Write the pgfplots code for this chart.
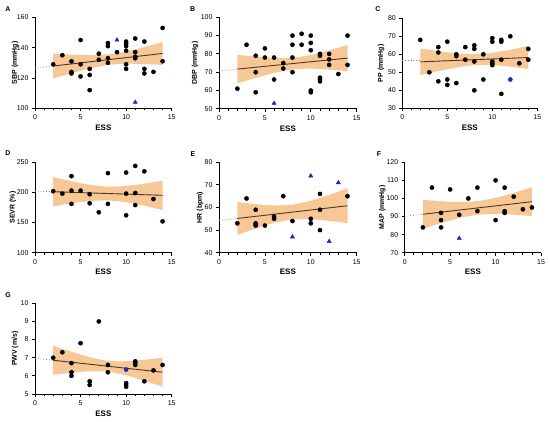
\documentclass[border=0pt]{standalone}
\usepackage{fontspec}
\setmainfont{Liberation Sans}
\usepackage{pgfplots}
\pgfplotsset{compat=1.18}
\usepgfplotslibrary{fillbetween}
\definecolor{band}{RGB}{248,199,150}
\definecolor{regl}{RGB}{80,55,35}
\definecolor{outl}{RGB}{35,35,190}
\pgfplotsset{gp/.style={scale only axis, axis lines=left,
  axis line style={-, line width=0.9bp, black},
  xmin=0, xmax=15, xtick={0,5,10,15}, minor x tick num=4,
  tick align=outside, major tick length=3bp, minor tick length=2bp,
  every tick/.style={line width=0.8bp, black},
  ticklabel style={font=\fontsize{7}{8}\selectfont},
  /pgf/number format/assume math mode=true,
  xlabel={ESS},
  xlabel style={font=\bfseries\fontsize{8}{9}\selectfont, at={(axis description cs:0.5,-0.213)}, anchor=center},
  ylabel style={font=\bfseries\fontsize{7}{8}\selectfont, anchor=center},
  clip=false},
  pts/.style={only marks, mark=*, mark size=2.1bp, black},
  tri/.style={only marks, mark=triangle*, mark size=2.4bp, outl},
  bdot/.style={only marks, mark=*, mark size=2.1bp, outl},
  rl/.style={regl, line width=0.9bp},
  dl/.style={gray, dotted, line width=0.8bp},
}
\newcommand{\band}[2]{%
  \addplot[name path=U, draw=none, smooth] coordinates {#1};
  \addplot[name path=L, draw=none, smooth] coordinates {#2};
  \addplot[band, draw=none] fill between[of=U and L];}
\begin{document}
\begin{tikzpicture}
\path (0bp,0bp) rectangle (550bp,422bp);
% A
\begin{axis}[gp, at={(35bp,313.7bp)}, anchor=south west, width=136.7bp, height=91bp,
  ymin=100, ymax=160, ytick={100,120,140,160}, ylabel={SBP (mmHg)},
  ylabel style={at={(axis description cs:-0.146,0.5)}}]
\band{(2,136.08)(4,135.41)(6,135.06)(8,135.54)(10,137.43)(12,140.37)(14,143.73)}{(2,119.68)(4,123.11)(6,126.22)(8,128.50)(10,129.37)(12,129.19)(14,128.59)}
\addplot[dl] coordinates {(0,126.5)(2,127.88)};
\addplot[rl] coordinates {(2,127.88)(14,136.16)};
\addplot[pts] coordinates {(2,129)(3,135)(4,131)(4,124)(4,123)(5,145)(5,129)(5,121)(6,126)(6,122)(6,112)(7,136)(7,132)(8,143)(8,141)(8,133)(8,130)(9,137)(10,144)(10,142.5)(10,141)(10,138)(10,129)(10,126)(11,146)(11,137)(11,134)(11,133)(12,144)(12,126)(12,123)(13,124)(14,153)(14,131)};
\addplot[tri] coordinates {(9,145)(11,104)};
\end{axis}
% B
\begin{axis}[gp, at={(219bp,313.2bp)}, anchor=south west, width=137.7bp, height=91.5bp,
  ymin=50, ymax=100, ytick={50,60,70,80,90,100}, ylabel={DBP (mmHg)},
  ylabel style={at={(axis description cs:-0.174,0.5)}}]
\band{(2,79.5)(4,78.51)(6,77.82)(8,77.92)(10,79.43)(12,81.96)(14,84.89)}{(2,63.9)(4,66.89)(6,69.58)(8,71.48)(10,71.97)(12,71.44)(14,70.51)}
\addplot[dl] coordinates {(0,70.7)(2,71.7)};
\addplot[rl] coordinates {(2,71.7)(14,77.7)};
\addplot[pts] coordinates {(2,61)(3,85)(4,79)(4,70)(4,59)(5,83)(5,78)(6,78)(6,66)(7,75)(7,72)(8,90)(8,85)(8,78)(8,70)(9,91)(9,85)(10,90)(10,86)(10,82)(10,60)(10,59)(11,80)(11,79)(11,67)(11,66)(11,65)(12,80)(12,77)(12,74)(13,69)(14,90)(14,74)};
\addplot[tri] coordinates {(6,53)};
\end{axis}
% C
\begin{axis}[gp, at={(402.3bp,313.7bp)}, anchor=south west, width=135bp, height=90bp,
  ymin=30, ymax=80, ytick={30,40,50,60,70,80}, ylabel={PP (mmHg)},
  ylabel style={at={(axis description cs:-0.158,0.5)}}]
\band{(2,63.2)(4,61.76)(6,60.57)(8,60.04)(10,60.78)(12,62.52)(14,64.66)}{(2,48.4)(4,50.64)(6,52.63)(8,53.96)(10,54.02)(12,53.08)(14,51.74)}
\addplot[dl] coordinates {(0,56.8)(2,56.8)};
\addplot[rl] coordinates {(2,55.8)(14,58.2)};
\addplot[pts] coordinates {(2,68)(3,50)(4,64)(4,61)(4,45)(5,67)(5,46)(5,43)(6,60)(6,59)(6,44)(7,64)(7,57)(8,65)(8,63)(8,56)(8,40)(9,60)(9,46)(10,69)(10,67)(10,56)(10,55)(10,54)(11,68)(11,67)(11,57)(11,38)(12,70)(13,55)(14,63)(14,57)};
\addplot[bdot] coordinates {(12,46)};
\end{axis}
% D
\begin{axis}[gp, at={(35bp,169.3bp)}, anchor=south west, width=136.7bp, height=90.4bp,
  ymin=100, ymax=250, ytick={100,150,200,250}, ylabel={SEVR (\%)},
  ylabel style={at={(axis description cs:-0.163,0.5)}}]
\band{(2,225.5)(4,218.53)(6,212.73)(8,209.7)(10,210.73)(12,214.53)(14,219.5)}{(2,176.9)(4,181.87)(6,185.67)(8,186.7)(10,183.67)(12,177.87)(14,170.9)}
\addplot[dl] coordinates {(0,202.2)(2,201.2)};
\addplot[rl] coordinates {(2,201.2)(14,195.2)};
\addplot[pts] coordinates {(2,202)(3,198)(4,227)(4,203)(4,181)(5,203)(6,197)(6,182)(7,167)(8,232)(8,181)(10,233)(10,198)(10,162)(11,244)(11,199)(11,179)(12,235)(13,189)(14,152)};
\end{axis}
% E
\begin{axis}[gp, at={(219bp,169.3bp)}, anchor=south west, width=137.7bp, height=90.4bp,
  ymin=40, ymax=80, ytick={40,50,60,70,80}, ylabel={HR (bpm)},
  ylabel style={at={(axis description cs:-0.138,0.5)}}]
\band{(2,62.44)(4,61.47)(6,60.89)(8,61.27)(10,63.02)(12,65.59)(14,68.48)}{(2,47.84)(4,50.69)(6,53.15)(8,54.65)(10,54.78)(12,54.09)(14,53.08)}
\addplot[dl] coordinates {(0,54.2)(2,55.14)};
\addplot[rl] coordinates {(2,55.14)(14,60.78)};
\addplot[pts] coordinates {(2,53)(3,64)(4,59)(4,53)(4,52.5)(4,52)(5,52)(6,56)(6,55)(7,65)(8,54)(10,55)(10,53)(11,66)(11,59)(11,50)(14,65)};
\addplot[tri] coordinates {(8,47)(10,74)(12,45)(13,71)};
\end{axis}
% F
\begin{axis}[gp, at={(404.7bp,169.3bp)}, anchor=south west, width=136.3bp, height=90.4bp,
  ymin=70, ymax=120, ytick={70,80,90,100,110,120}, ylabel={MAP (mmHg)},
  ylabel style={at={(axis description cs:-0.164,0.5)}}]
\band{(2,99.26)(4,98.46)(6,98.05)(8,98.54)(10,100.37)(12,103.1)(14,106.22)}{(2,83.26)(4,86.38)(6,89.11)(8,90.94)(10,91.43)(12,91.02)(14,90.22)}
\addplot[dl] coordinates {(0,90.1)(2,91.26)};
\addplot[rl] coordinates {(2,91.26)(14,98.22)};
\addplot[pts] coordinates {(2,84)(3,106)(4,92)(4,88)(4,84)(5,105)(6,91)(7,100)(8,106)(8,93)(10,110)(10,88)(11,106)(11,93)(11,92)(12,101)(13,94)(14,95)};
\addplot[tri] coordinates {(6,78)};
\end{axis}
% G
\begin{axis}[gp, at={(35bp,28bp)}, anchor=south west, width=136.7bp, height=90.7bp,
  ymin=5, ymax=10, ytick={5,6,7,8,9,10}, ylabel={PWV (m/s)},
  ylabel style={at={(axis description cs:-0.146,0.5)}}]
\band{(2,7.66)(4,7.328)(6,7.029)(8,6.83)(10,6.809)(12,6.888)(14,7.0)}{(2,6.06)(4,6.172)(6,6.251)(8,6.23)(10,6.031)(12,5.732)(14,5.4)}
\addplot[dl] coordinates {(0,6.97)(2,6.86)};
\addplot[rl] coordinates {(2,6.86)(14,6.2)};
\addplot[pts] coordinates {(2,7.0)(3,7.3)(4,6.7)(4,6.2)(4,6.0)(5,7.8)(6,5.7)(6,5.5)(7,9.0)(8,6.6)(8,6.2)(10,5.6)(10,5.5)(10,5.4)(11,6.8)(11,6.7)(11,6.6)(12,5.7)(13,6.3)(14,6.6)};
\addplot[bdot] coordinates {(10,6.35)};
\end{axis}
% panel letters
\begin{scope}[every node/.style={font=\bfseries\fontsize{7}{8}\selectfont, anchor=center, inner sep=0pt}]
\node at (8bp,413bp) {A};
\node at (192.7bp,413bp) {B};
\node at (378bp,413bp) {C};
\node at (8bp,269bp) {D};
\node at (193bp,268bp) {E};
\node at (379bp,268bp) {F};
\node at (8bp,127bp) {G};
\end{scope}
\end{tikzpicture}
\end{document}
